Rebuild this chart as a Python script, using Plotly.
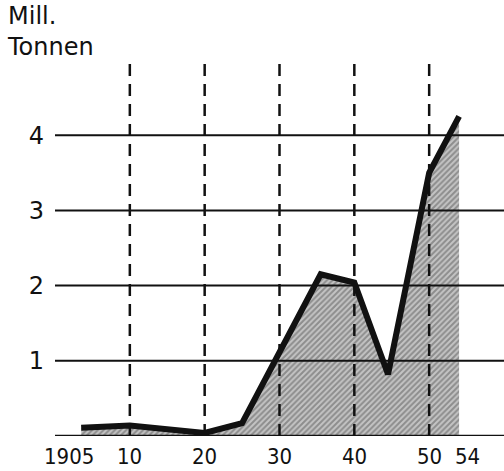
import plotly.graph_objects as go

# ---- data ----
years = [1903.5, 1910, 1920, 1925, 1935.5, 1940, 1944.5, 1950, 1954]
values = [0.11, 0.14, 0.04, 0.17, 2.15, 2.04, 0.82, 3.5, 4.25]

x_tick_years = [1905, 1910, 1920, 1930, 1940, 1950, 1954]
x_tick_labels = ["1905", "10", "20", "30", "40", "50", "54"]
dashed_years = [1910, 1920, 1930, 1940, 1950]
y_ticks = [1, 2, 3, 4]
y_tick_labels = ["1", "2", "3", "4"]
unit_lines = ["Mill.", "Tonnen"]

# ---- style ----
X_RANGE = [1900, 1960]
Y_RANGE = [0, 5]
label_shift_px = [-23, 0, 0, 0, 0, 0, 8]

fig = go.Figure()

# hatched area
fig.add_trace(go.Scatter(
    x=years, y=values, mode="lines", fill="tozeroy",
    line=dict(width=0, color="rgba(0,0,0,0)"),
    fillcolor="#a0a0a0",
    fillpattern=dict(shape="/", bgcolor="#c4c4c4", fgcolor="#555555",
                     size=4, solidity=0.5),
    hoverinfo="skip", showlegend=False,
))

# horizontal solid grid lines (incl. baseline)
for yv in [0] + y_ticks:
    fig.add_trace(go.Scatter(
        x=X_RANGE, y=[yv, yv], mode="lines",
        line=dict(color="#111", width=2.5 if yv == 0 else 2),
        hoverinfo="skip", showlegend=False,
    ))

# vertical dashed lines
for xv in dashed_years:
    fig.add_trace(go.Scatter(
        x=[xv, xv], y=Y_RANGE, mode="lines",
        line=dict(color="#111", width=2.5, dash="12px,8px"),
        hoverinfo="skip", showlegend=False,
    ))

# main black line
fig.add_trace(go.Scatter(
    x=years, y=values, mode="lines",
    line=dict(color="#111", width=6),
    hoverinfo="skip", showlegend=False,
))

annotations = []
for yr, lab, sh in zip(x_tick_years, x_tick_labels, label_shift_px):
    annotations.append(dict(
        x=yr, xref="x", y=0, yref="paper", yanchor="middle", xanchor="center",
        yshift=-20, xshift=sh, text=lab, showarrow=False,
        font=dict(family="DejaVu Sans Condensed, DejaVu Sans", size=22, color="#111"),
    ))

annotations.append(dict(x=0, xref="paper", y=1, yref="paper", xanchor="left",
                        yanchor="top", align="left", xshift=-50, yshift=60,
                        text="<br>".join(unit_lines), showarrow=False,
                        font=dict(family="DejaVu Sans", size=24, color="#111")))

fig.update_layout(
    width=504, height=471,
    margin=dict(l=55, r=0, t=60, b=35),
    paper_bgcolor="white", plot_bgcolor="white",
    annotations=annotations,
    xaxis=dict(range=X_RANGE, showgrid=False, zeroline=False, showline=False,
               showticklabels=False, ticks=""),
    yaxis=dict(range=Y_RANGE, showgrid=False, zeroline=False, showline=False,
               tickvals=y_ticks, ticktext=y_tick_labels, ticks="",
               ticklabelstandoff=10,
               tickfont=dict(family="DejaVu Sans", size=24, color="#111")),
)

fig.write_html("out.html", config={"displayModeBar": False},
               post_script="document.body.style.margin='0';")
